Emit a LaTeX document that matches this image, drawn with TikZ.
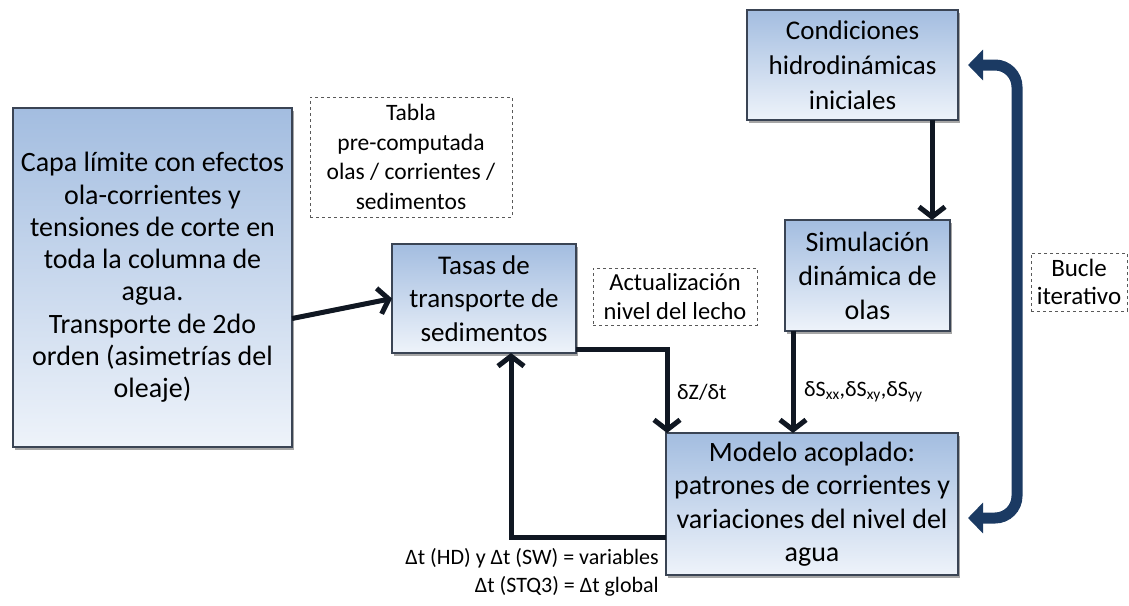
\documentclass[tikz,border=0pt]{standalone}
\usepackage{fontspec}
\setmainfont{Carlito}
\usetikzlibrary{arrows.meta,shadows,calc}
\definecolor{boxtop}{HTML}{A3BDE0}
\definecolor{boxbot}{HTML}{EEF3FA}
\definecolor{boxline}{HTML}{3A4454}
\definecolor{arrowc}{HTML}{101722}
\definecolor{loopc}{HTML}{1B3A63}
\begin{document}
\begin{tikzpicture}[x=1pt,y=-1pt,
  box/.style={draw=boxline, line width=2.5pt, top color=boxtop, bottom color=boxbot,
    anchor=north west, inner sep=0pt, outer sep=0pt, align=center,
    drop shadow={shadow xshift=1.5pt, shadow yshift=-3pt, opacity=0.35, fill=black}},
  note/.style={draw=black!65, dashed, line width=0.6pt, anchor=north west, inner sep=0pt,
    outer sep=0pt, align=center, font=\fontsize{24.5}{29.5}\selectfont},
  conn/.style={line width=5pt, draw=arrowc, -{Straight Barb[length=10pt,width=26pt,line width=5pt]}},
  loop/.style={line width=11pt, draw=loopc, rounded corners=22pt,
    {Triangle[width=30pt,length=15pt]}-{Triangle[width=30pt,length=15pt]}},
  lbl/.style={font=\fontsize{22}{25}\selectfont, inner sep=0pt},
]
\useasboundingbox (0,0) rectangle (1129,605);

\node[box, minimum width=279pt, minimum height=339pt, font=\fontsize{28}{32.3}\selectfont] (capa) at (13,108)
  {Capa límite con efectos\\ola-corrientes y\\tensiones de corte en\\toda la columna de\\agua.\\Transporte de 2do\\orden (asimetrías del\\oleaje)};
\node[note, minimum width=202pt, minimum height=120pt, font=\fontsize{23.5}{29.5}\selectfont] (tabla) at (310,97)
  {Tabla\\pre-computada\\olas / corrientes /\\sedimentos};
\node[box, minimum width=184pt, minimum height=109pt, font=\fontsize{27}{33.5}\selectfont] (tasas) at (392,244)
  {Tasas de\\transporte de\\sedimentos};
\node[note, minimum width=164pt, minimum height=57pt] (act) at (593,268)
  {Actualización\\nivel del lecho};
\node[box, minimum width=211pt, minimum height=110pt, font=\fontsize{27}{35}\selectfont] (cond) at (747,10)
  {Condiciones\\hidrodinámicas\\iniciales};
\node[box, minimum width=165pt, minimum height=111pt, font=\fontsize{28}{34}\selectfont] (sim) at (785,220)
  {Simulación\\dinámica de\\olas};
\node[box, minimum width=292pt, minimum height=142pt, font=\fontsize{28}{33.5}\selectfont] (modelo) at (666,433)
  {Modelo acoplado:\\patrones de corrientes y\\variaciones del nivel del\\agua};
\node[note, minimum width=96pt, minimum height=58pt, font=\fontsize{25}{28.5}\selectfont] (bucle) at (1031,253)
  {Bucle\\iterativo};

\draw[conn] ($(capa.east)+(0,41)$) -- (tasas.west);
\draw[conn] ($(tasas.south east)+(0,-4)$) -| ($(modelo.north west)+(1,0)$);
\draw[conn] ($(modelo.west)+(0,33)$) -| ($(tasas.south)+(27,0)$);
\draw[conn] ($(cond.south)+(79.5,0)$) -- ($(sim.north)+(64.5,0)$);
\draw[conn] ($(sim.south)+(-74.5,0)$) -- ($(modelo.north)+(-19,0)$);

\coordinate (bt) at ($(cond.east)+(10,0)$);
\coordinate (bb) at ($(modelo.east)+(10,14)$);
\draw[loop] (bt) -- ($(bt)+(49,0)$) -- ($(bb)+(49,0)$) -- (bb);

\node[lbl, anchor=west] (dz) at (677,392) {δZ/δt};
\node[lbl, anchor=west] (ds) at (804,392) {δS\textsubscript{xx},δS\textsubscript{xy},δS\textsubscript{yy}};
\node[lbl, anchor=east] (dt1) at (659,558) {Δt (HD) y Δt (SW) = variables};
\node[lbl, anchor=east] (dt2) at (659,586) {Δt (STQ3) = Δt global};
\end{tikzpicture}
\end{document}
